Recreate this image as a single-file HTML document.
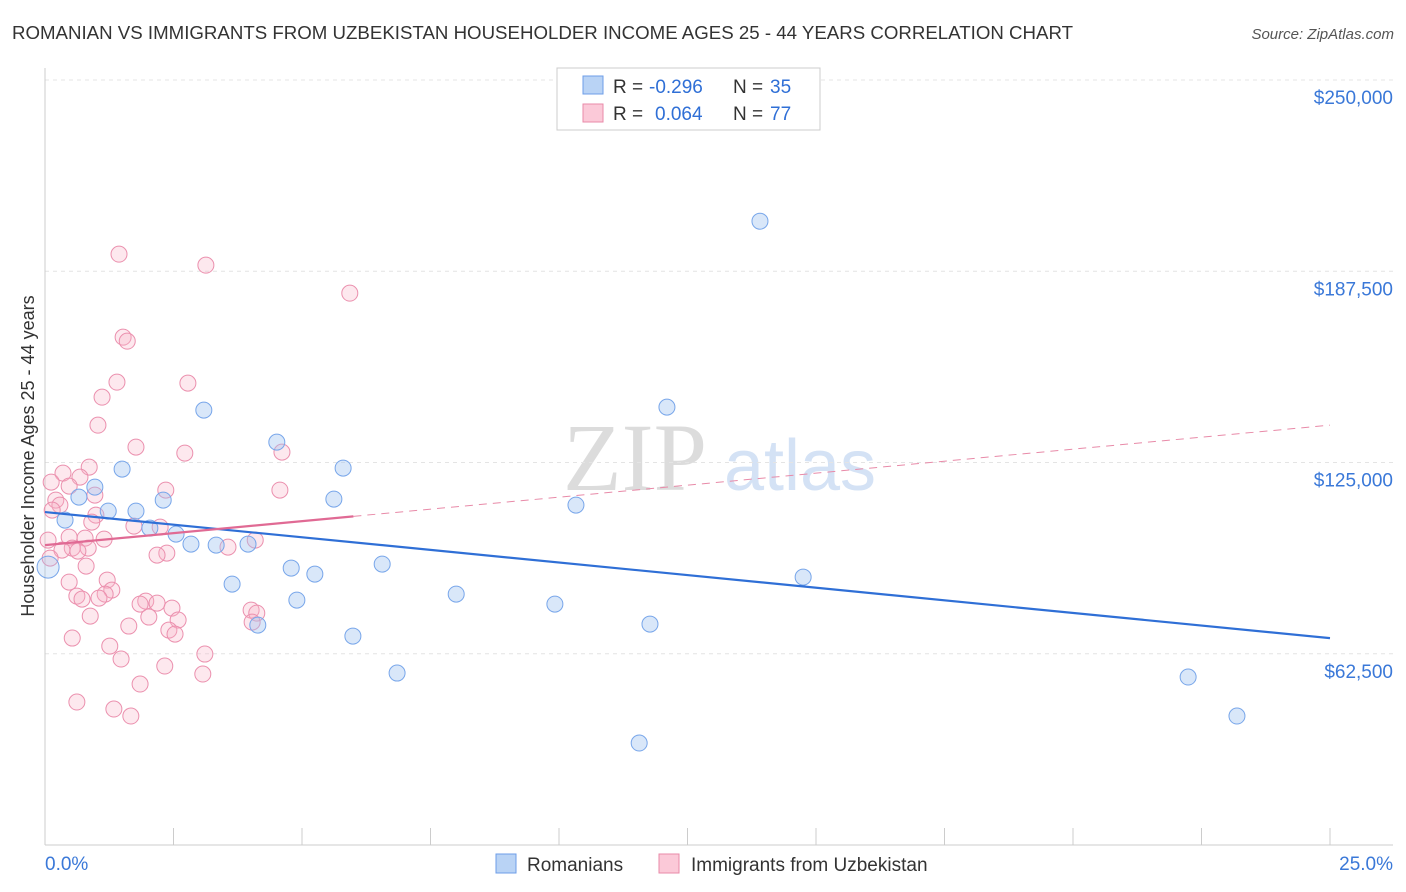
<!DOCTYPE html>
<html><head><meta charset="utf-8"><style>
body{margin:0;background:#fff;font-family:"Liberation Sans",sans-serif}
svg{display:block}
</style></head><body>
<svg id="chart" width="1406" height="892" xmlns="http://www.w3.org/2000/svg" font-family="Liberation Sans, sans-serif">
<text x="12" y="39" font-size="18" fill="#333" textLength="1061" lengthAdjust="spacingAndGlyphs">ROMANIAN VS IMMIGRANTS FROM UZBEKISTAN HOUSEHOLDER INCOME AGES 25 - 44 YEARS CORRELATION CHART</text>
<text x="1394" y="39" font-size="15" fill="#555" text-anchor="end" font-style="italic">Source: ZipAtlas.com</text>
<g>
<text x="635" y="490" font-size="96" fill="#dcdcdc" font-family="Liberation Serif, serif" text-anchor="middle">ZIP</text>
<text x="800" y="490" font-size="72" fill="#d4e2f5" text-anchor="middle">atlas</text>
</g>
<g id="grid"></g>
<g id="axes"></g>
<g id="marks"></g>
<g>
<rect x="557" y="68" width="263" height="62" fill="#fff" stroke="#ccc"/>
<rect x="583" y="76" width="20" height="18" fill="#b9d3f5" stroke="#6d9ee8"/>
<rect x="583" y="104" width="20" height="18" fill="#fbc9d8" stroke="#e88aa8"/>
<text x="613" y="93" font-size="19" fill="#333">R =</text>
<text x="649" y="93" font-size="19" fill="#2f6fd6">-0.296</text>
<text x="733" y="93" font-size="19" fill="#333">N =</text>
<text x="770" y="93" font-size="19" fill="#2f6fd6">35</text>
<text x="613" y="120" font-size="19" fill="#333">R =</text>
<text x="655" y="120" font-size="19" fill="#2f6fd6">0.064</text>
<text x="733" y="120" font-size="19" fill="#333">N =</text>
<text x="770" y="120" font-size="19" fill="#2f6fd6">77</text>
</g>
<g>
<rect x="496" y="854" width="20" height="19" fill="#b9d3f5" stroke="#6d9ee8"/>
<text x="527" y="871" font-size="19" fill="#333">Romanians</text>
<rect x="659" y="854" width="20" height="19" fill="#fbc9d8" stroke="#e88aa8"/>
<text x="691" y="871" font-size="19" fill="#333">Immigrants from Uzbekistan</text>
</g>
<text transform="translate(34,456) rotate(-90)" font-size="18" fill="#333" text-anchor="middle">Householder Income Ages 25 - 44 years</text>
</svg>
<script>
const yTicks=[62500,125000,187500,250000];
const yTickLabels=["$62,500","$125,000","$187,500","$250,000"];
const xTickLabels=["0.0%","25.0%"];
const blueX=[13.91,3.09,12.10,4.51,1.50,5.80,0.97,0.66,5.62,2.30,10.33,0.39,1.77,1.23,2.04,2.55,2.84,3.33,3.95,4.79,5.25,6.56,14.75,3.64,4.90,8.00,9.92,11.77,4.14,5.99,6.85,22.24,23.19,11.56,0.06];
const blueY=[203860,142115,143095,131660,122840,123165,116960,113690,113040,112710,111080,106180,109120,109120,103560,101600,98340,98010,98340,90500,88540,91800,87560,85270,80040,82000,78730,72200,71870,68280,56190,54890,42140,33320,90820];
const pinkX=[1.44,3.13,5.93,1.52,1.60,1.40,2.78,1.11,1.03,1.77,2.72,4.61,0.86,0.35,0.68,0.12,0.47,2.35,4.57,0.97,0.21,0.29,0.14,0.99,0.91,1.73,2.24,0.47,0.78,0.06,1.15,0.84,0.53,0.33,0.64,3.56,2.37,2.18,0.10,0.80,1.21,0.47,1.30,0.62,0.72,1.17,1.05,1.96,2.18,1.85,2.47,4.01,4.12,2.02,2.59,4.03,1.63,0.88,2.41,2.53,0.53,1.26,3.11,1.48,2.33,3.07,1.85,0.62,1.34,1.67,4.09];
const pinkY=[193080,189490,180340,165960,164660,151260,150940,146360,137210,130030,128070,128390,123490,121530,120230,118590,117290,115980,115980,114350,112710,111080,109440,107810,105520,104220,103890,100620,100300,99640,99970,97030,97030,96380,96050,97360,95400,94740,93760,91150,86580,85920,83310,81350,80370,82000,80690,79710,79060,78730,77430,76770,75790,74490,73510,72850,71550,74810,70240,68930,67630,65010,62400,60770,58480,55870,52600,46720,44430,42140,99640];
const blueTrendX=[0,25], blueTrendY=[108800,67600];
const pinkTrendX=[0,6,25], pinkTrendY=[98000,107400,137200];

const NS="http://www.w3.org/2000/svg";
const X0=45,X1=1330,Y0=845,Y250=80;
const sx=v=>X0+(v/25)*(X1-X0);
const sy=v=>Y0-(v/250000)*(Y0-Y250);
function mk(tag,attrs,parent){const e=document.createElementNS(NS,tag);for(const k in attrs)e.setAttribute(k,attrs[k]);parent.appendChild(e);return e;}
const grid=document.getElementById('grid'),axes=document.getElementById('axes'),marks=document.getElementById('marks');
yTicks.forEach((t,i)=>{
  const l=mk('line',{x1:X0,x2:1393,y1:sy(t),y2:sy(t),stroke:'#e4e4e4','stroke-dasharray':'4,4'},grid);
  
  
  const tx=mk('text',{x:1393,y:sy(t)+24,'font-size':19,fill:'#3a78d8','text-anchor':'end'},axes);
  tx.textContent=yTickLabels[i];
  
  
});
const ax=mk('line',{x1:X0,x2:X0,y1:68,y2:Y0,stroke:'#ccc'},axes);


const bx=mk('line',{x1:X0,x2:1393,y1:Y0,y2:Y0,stroke:'#ccc'},axes);


for(let i=0;i<=10;i++){
  const t=mk('line',{x1:sx(i*2.5),x2:sx(i*2.5),y1:828,y2:Y0,stroke:'#ccc'},axes);
  
  
}
const xl0=mk('text',{x:45,y:870,'font-size':19,fill:'#3a78d8'},axes);xl0.textContent=xTickLabels[0];


const xl1=mk('text',{x:1393,y:870,'font-size':19,fill:'#3a78d8','text-anchor':'end'},axes);xl1.textContent=xTickLabels[1];



pinkX.forEach((x,i)=>{
  const c=mk('circle',{cx:sx(x),cy:sy(pinkY[i]),r:8,fill:'rgba(248,180,200,0.3)',stroke:'#eb90ae','stroke-width':1},marks);
  
  
});
blueX.forEach((x,i)=>{
  const big=i===blueX.length-1;
  const c=mk('circle',{cx:sx(x),cy:sy(blueY[i]),r:(big?11:8),fill:big?'rgba(160,195,240,0.3)':'rgba(160,195,240,0.4)',stroke:'#78a6ea','stroke-width':1},marks);
  
  
});
const bt=mk('line',{x1:sx(blueTrendX[0]),y1:sy(blueTrendY[0]),x2:sx(blueTrendX[1]),y2:sy(blueTrendY[1]),stroke:'#2f6fd6','stroke-width':2.2},marks);


const pt=mk('line',{x1:sx(pinkTrendX[0]),y1:sy(pinkTrendY[0]),x2:sx(pinkTrendX[1]),y2:sy(pinkTrendY[1]),stroke:'#e06a94','stroke-width':2.2},marks);


const pd=mk('line',{x1:sx(pinkTrendX[1]),y1:sy(pinkTrendY[1]),x2:sx(pinkTrendX[2]),y2:sy(pinkTrendY[2]),stroke:'#e88aa8','stroke-width':1,'stroke-dasharray':'8,6'},marks);


</script>
</body></html>
